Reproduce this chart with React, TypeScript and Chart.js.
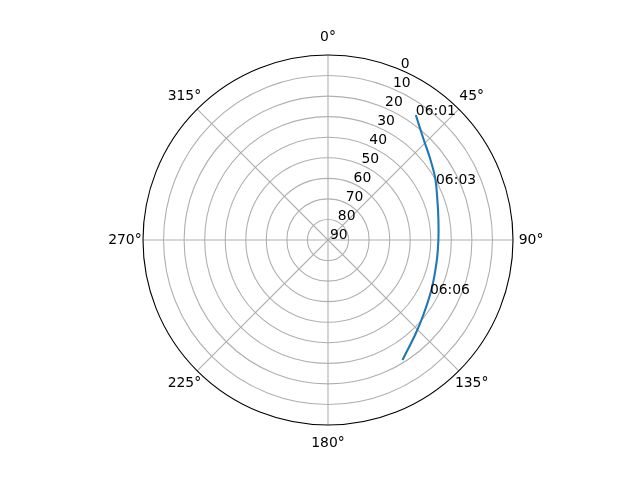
import React, { useEffect, useRef } from "react";
import { Chart, registerables } from "chart.js";

Chart.register(...registerables);

// satellite pass, azimuth (deg, clockwise from north) and elevation (deg)
const trackAz = [35.1, 43.1, 51.3, 60.1, 69.1, 79.7, 90.0, 101.3, 115.0, 128.2, 137.5, 148.2];
const trackEl = [15.7, 22.2, 26.4, 29.8, 33.1, 35.4, 36.3, 36.1, 34.3, 31.0, 27.3, 21.3];

const passTimes = ["06:01", "06:03", "06:06"];
const passTimeAz = [35.1, 62.6, 117.9];
const passTimeEl = [15.7, 30.8, 33.9];

const elevationTicks = [0, 10, 20, 30, 40, 50, 60, 70, 80, 90];
const azimuthTicks = [0, 45, 90, 135, 180, 225, 270, 315];

const FONT = '13.9px "DejaVu Sans"';
const GRID = "#b0b0b0";

// zenith distance r = 90 - elevation, north up, clockwise
const toXY = (az: number, r: number) => {
  const a = (az * Math.PI) / 180;
  return { x: r * Math.sin(a), y: r * Math.cos(a) };
};

const polarGrid = {
  id: "polarGrid",
  beforeDatasetsDraw(chart: any) {
    const { ctx, scales } = chart;
    const sx = scales.x;
    const sy = scales.y;
    const cx = sx.getPixelForValue(0);
    const cy = sy.getPixelForValue(0);
    const unit = sx.getPixelForValue(1) - cx;
    ctx.save();
    ctx.strokeStyle = GRID;
    ctx.lineWidth = 1.1;
    elevationTicks.forEach((el) => {
      const r = 90 - el;
      if (r <= 0 || r >= 90) return;
      ctx.beginPath();
      ctx.arc(cx, cy, r * unit, 0, Math.PI * 2);
      ctx.stroke();
    });
    azimuthTicks.forEach((az) => {
      const p = toXY(az, 90);
      ctx.beginPath();
      ctx.moveTo(cx, cy);
      ctx.lineTo(sx.getPixelForValue(p.x), sy.getPixelForValue(p.y));
      ctx.stroke();
    });
    ctx.restore();
  },
  afterDatasetsDraw(chart: any) {
    const { ctx, scales } = chart;
    const sx = scales.x;
    const sy = scales.y;
    const cx = sx.getPixelForValue(0);
    const cy = sy.getPixelForValue(0);
    const unit = sx.getPixelForValue(1) - cx;
    ctx.save();
    ctx.strokeStyle = "#000000";
    ctx.lineWidth = 1.1;
    ctx.beginPath();
    ctx.arc(cx, cy, 90 * unit, 0, Math.PI * 2);
    ctx.stroke();

    ctx.fillStyle = "#000000";
    ctx.font = FONT;
    ctx.textAlign = "center";
    ctx.textBaseline = "middle";
    azimuthTicks.forEach((az) => {
      const p = toXY(az, 98.8);
      ctx.fillText(az + "°", sx.getPixelForValue(p.x), sy.getPixelForValue(p.y));
    });

    ctx.textAlign = "left";
    ctx.textBaseline = "alphabetic";
    elevationTicks.forEach((el) => {
      const p = toXY(22.5, 90 - el);
      ctx.fillText(String(el), sx.getPixelForValue(p.x) + 2, sy.getPixelForValue(p.y) - 1);
    });

    passTimes.forEach((t, i) => {
      const p = toXY(passTimeAz[i], 90 - passTimeEl[i]);
      ctx.fillText(t, sx.getPixelForValue(p.x), sy.getPixelForValue(p.y));
    });
    ctx.restore();
  },
};

const App: React.FC = () => {
  const chartRef = useRef<HTMLCanvasElement>(null);
  const chartInstance = useRef<Chart | null>(null);

  useEffect(() => {
    if (!chartRef.current) return;
    const ctx = chartRef.current.getContext("2d");
    if (!ctx) return;
    if (chartInstance.current) chartInstance.current.destroy();

    chartInstance.current = new Chart(ctx, {
      type: "scatter",
      data: {
        datasets: [
          {
            label: "pass",
            data: trackAz.map((az, i) => toXY(az, 90 - trackEl[i])),
            showLine: true,
            borderColor: "#1f77b4",
            borderWidth: 2.1,
            pointRadius: 0,
            tension: 0.3,
            fill: false,
          },
        ],
      },
      options: {
        responsive: false,
        animation: false,
        layout: {
          padding: { left: 143, right: 127, top: 55, bottom: 55 },
        },
        plugins: {
          legend: { display: false },
          tooltip: { enabled: false },
        },
        scales: {
          x: { type: "linear", min: -90, max: 90, display: false },
          y: { type: "linear", min: -90, max: 90, display: false },
        },
      },
      plugins: [polarGrid],
    });

    return () => {
      if (chartInstance.current) {
        chartInstance.current.destroy();
        chartInstance.current = null;
      }
    };
  }, []);

  return (
    <div style={{ position: "fixed", left: 0, top: 0, width: 640, height: 480, background: "#ffffff" }}>
      <canvas ref={chartRef} width={640} height={480}></canvas>
    </div>
  );
};

export default App;
